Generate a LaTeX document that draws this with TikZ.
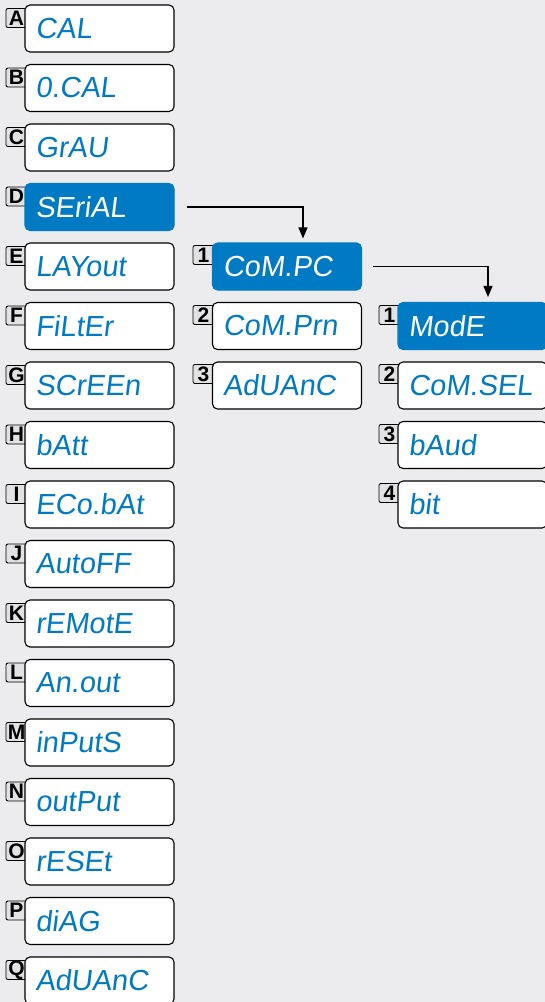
\documentclass[tikz,border=0pt]{standalone}
\usepackage{fontspec}
\usetikzlibrary{arrows.meta}
\newfontfamily\segfont[FakeSlant=0.12]{Liberation Sans}
\newfontfamily\tagfont{Liberation Sans}
\definecolor{segblue}{RGB}{0,122,195}
\definecolor{bggray}{RGB}{236,236,238}
\definecolor{taggray}{RGB}{226,226,228}
\begin{document}
\begin{tikzpicture}[x=1pt,y=-1pt]
\tikzset{ >={Triangle[length=11pt,width=9pt]},
  menu/.style={draw=black, line width=1.1pt, rounded corners=5pt, fill=white, text=segblue,
    font=\segfont\fontsize{29}{30}\selectfont, minimum height=47pt, text width=128pt,
    inner xsep=10.5pt, align=left},
  menusel/.style={menu, draw=segblue, fill=segblue, text=white},
  tag/.style={draw=black, line width=0.9pt, rounded corners=2pt, fill=taggray, minimum width=21pt,
    minimum height=19pt, inner sep=0pt, font=\tagfont\bfseries\fontsize{21}{21}\selectfont},
}

\fill [bggray] (0,0) rectangle (545,1002);
\useasboundingbox (0,0) rectangle (545,1002);

%\draw [lightgray, dashed](0,0) grid[step=59.5] (545,1002);

% tags, left column
\node [tag] (tagA) at (16.5,18)    {A};
\node [tag] (tagB) at (16.5,77.5)  {B};
\node [tag] (tagC) at (16.5,137)   {C};
\node [tag] (tagD) at (16.5,196.5) {D};
\node [tag] (tagE) at (16.5,256)   {E};
\node [tag] (tagF) at (16.5,315.5) {F};
\node [tag] (tagG) at (16.5,375)   {G};
\node [tag] (tagH) at (16.5,434.5) {H};
\node [tag] (tagI) at (16.5,494)   {I};
\node [tag] (tagJ) at (16.5,553.5) {J};
\node [tag] (tagK) at (16.5,613)   {K};
\node [tag] (tagL) at (16.5,672.5) {L};
\node [tag] (tagM) at (16.5,732)   {M};
\node [tag] (tagN) at (16.5,791.5) {N};
\node [tag] (tagO) at (16.5,851)   {O};
\node [tag] (tagP) at (16.5,910.5) {P};
\node [tag] (tagQ) at (16.5,970)   {Q};

% tags, serial menu
\node [tag] (tagS1) at (203.5,255) {1};
\node [tag] (tagS2) at (203.5,315) {2};
\node [tag] (tagS3) at (203.5,374) {3};

% tags, com.pc menu
\node [tag] (tagP1) at (389.5,315) {1};
\node [tag] (tagP2) at (389.5,374) {2};
\node [tag] (tagP3) at (389.5,434) {3};
\node [tag] (tagP4) at (389.5,493) {4};

% main menu
\node [menu]    (cal)    at (99.5,28.5)  {CAL};
\node [menu]    (ocal)   at (99.5,88)    {0.CAL};
\node [menu]    (grau)   at (99.5,147.5) {GrAU};
\node [menusel] (serial) at (99.5,207)   {SEriAL};
\node [menu]    (layout) at (99.5,266.5) {LAYout};
\node [menu]    (filter) at (99.5,326)   {FiLtEr};
\node [menu]    (screen) at (99.5,385.5) {SCrEEn};
\node [menu]    (batt)   at (99.5,445)   {bAtt};
\node [menu]    (ecobat) at (99.5,504.5) {ECo.bAt};
\node [menu]    (autoff) at (99.5,564)   {AutoFF};
\node [menu]    (remote) at (99.5,623.5) {rEMotE};
\node [menu]    (anout)  at (99.5,683)   {An.out};
\node [menu]    (inputs) at (99.5,742.5) {inPutS};
\node [menu]    (output) at (99.5,802)   {outPut};
\node [menu]    (reset)  at (99.5,861.5) {rESEt};
\node [menu]    (diag)   at (99.5,921)   {diAG};
\node [menu]    (advanc) at (99.5,980.5) {AdUAnC};

% serial menu
\node [menusel] (compc)   at (287,266.5) {CoM.PC};
\node [menu]    (comprn)  at (287,326)   {CoM.Prn};
\node [menu]    (advance) at (287,385.5) {AdUAnC};

% com.pc menu
\node [menusel] (mode)   at (472.5,326)   {ModE};
\node [menu]    (comsel) at (472.5,385.5) {CoM.SEL};
\node [menu]    (baud)   at (472.5,445)   {bAud};
\node [menu]    (bit)    at (472.5,504.5) {bit};

\draw [->, line width=1.1pt, shorten <=12pt, shorten >=4pt] (serial.east) -| ([xshift=16pt]compc.north);
\draw [->, line width=1.1pt, shorten <=11pt, shorten >=5pt] (compc.east) -| ([xshift=15.5pt]mode.north);

\end{tikzpicture}
\end{document}
